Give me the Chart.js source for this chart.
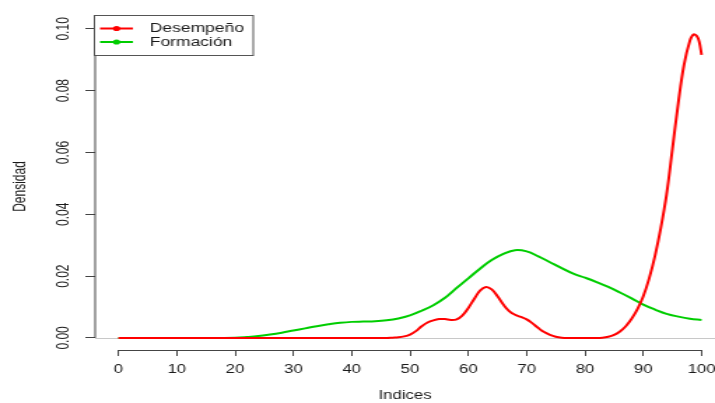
<!DOCTYPE html>
<html>
<head>
<meta charset="utf-8">
<title>Densidad</title>
<script src="https://cdn.jsdelivr.net/npm/chart.js@4/dist/chart.umd.min.js"></script>
<style>
  html, body { margin: 0; padding: 0; background: #fff; overflow: hidden; }
  /* the plot is drawn narrow and widened, like the wide png device it comes from */
  #wrap { width: 511px; height: 403px; transform: scaleX(1.3992); transform-origin: 0 0; }
</style>
</head>
<body>
<div id="wrap"><canvas id="densidad" width="511" height="403"></canvas></div>
<script>
// density estimates
var desempeno_x = [0, 10, 20, 30, 40, 46, 47, 48, 49, 50, 51, 52, 53, 54, 55, 56, 57, 58, 59, 60, 61, 62, 63, 64, 65, 66, 67, 68, 69, 70, 71, 72, 73, 74, 75, 76, 77, 80, 82, 83, 84, 85, 86, 87, 88, 89, 90, 91, 92, 93, 94, 95, 96, 97, 98, 98.6, 99.2, 99.6, 100];
var desempeno_y = [0, 0, 0, 0, 0, 0, 0.0001, 0.0002, 0.0005, 0.0011, 0.0022, 0.0038, 0.0050, 0.0057, 0.0061, 0.0061, 0.0058, 0.0060, 0.0073, 0.0097, 0.0126, 0.0153, 0.0165, 0.0157, 0.0135, 0.0108, 0.0087, 0.0075, 0.0068, 0.0060, 0.0047, 0.0032, 0.0019, 0.0010, 0.0004, 0.0001, 0, 0, 0, 0.0001, 0.0004, 0.0010, 0.0021, 0.0038, 0.0062, 0.0093, 0.0135, 0.0192, 0.0265, 0.0355, 0.0465, 0.0612, 0.0760, 0.0885, 0.0962, 0.0982, 0.0976, 0.0958, 0.0916];

var formacion_x = [0, 5, 10, 15, 20, 22, 24, 26, 28, 30, 32, 34, 36, 38, 40, 42, 44, 46, 48, 50, 52, 54, 56, 58, 60, 62, 64, 66, 68, 70, 72, 74, 76, 78, 80, 82, 84, 86, 88, 90, 92, 94, 96, 98, 100];
var formacion_y = [0, 0, 0, 0, 0.0001, 0.0003, 0.0006, 0.0011, 0.0017, 0.0024, 0.0031, 0.0038, 0.0044, 0.0049, 0.0052, 0.0053, 0.0054, 0.0057, 0.0063, 0.0073, 0.0088, 0.0106, 0.0130, 0.0162, 0.0193, 0.0224, 0.0252, 0.0272, 0.0284, 0.0280, 0.0264, 0.0245, 0.0226, 0.0208, 0.0195, 0.0181, 0.0165, 0.0147, 0.0128, 0.0108, 0.0092, 0.0078, 0.0069, 0.0062, 0.0058];

var x_ticks = [0, 10, 20, 30, 40, 50, 60, 70, 80, 90, 100];
var y_ticks = [0, 0.02, 0.04, 0.06, 0.08, 0.10];

var font_family = "'Liberation Sans', Arial, sans-serif";
var ink = '#1a1a1a';
var axis_col = '#444';

function pairs(xs, ys) {
  return xs.map(function (x, i) { return { x: x, y: ys[i] }; });
}

// keep the plot area fixed, labels may hang over the edges
function no_padding(s) {
  s.paddingLeft = 0;
  s.paddingRight = 0;
  s.paddingTop = 0;
  s.paddingBottom = 0;
}

// R style axes: lines only span the tick range, plus the gray zero line
var axis_lines = {
  id: 'axis_lines',
  beforeDatasetsDraw: function (chart) {
    var c = chart.ctx, area = chart.chartArea;
    var xs = chart.scales.x, ys = chart.scales.y;
    var y0 = Math.round(ys.getPixelForValue(0)) + 0.5;
    c.save();
    c.lineWidth = 1;
    c.strokeStyle = '#c8c8c8';
    c.beginPath();
    c.moveTo(area.left, y0);
    c.lineTo(area.right, y0);
    c.stroke();

    c.strokeStyle = axis_col;
    c.beginPath();
    c.moveTo(area.left, ys.getPixelForValue(y_ticks[0]));
    c.lineTo(area.left, ys.getPixelForValue(y_ticks[y_ticks.length - 1]));
    c.stroke();

    var yb = Math.round(area.bottom) + 0.5;
    c.beginPath();
    c.moveTo(xs.getPixelForValue(x_ticks[0]), yb);
    c.lineTo(xs.getPixelForValue(x_ticks[x_ticks.length - 1]), yb);
    c.stroke();
    c.restore();
  }
};

// boxed legend in the top left corner
var legend_box = {
  id: 'legend_box',
  afterDraw: function (chart) {
    var c = chart.ctx;
    var left = 67.5, top = 15.5, w = 113.5, h = 40;
    c.save();
    c.fillStyle = '#fff';
    c.fillRect(left, top, w, h);
    c.strokeStyle = '#555';
    c.lineWidth = 1;
    c.strokeRect(left, top, w, h);
    c.font = '12.5px ' + font_family;
    c.textBaseline = 'middle';
    chart.data.datasets.forEach(function (ds, i) {
      var y = 28.5 + i * 13.5;
      c.strokeStyle = ds.borderColor;
      c.lineWidth = 2;
      c.beginPath();
      c.moveTo(71.5, y);
      c.lineTo(95, y);
      c.stroke();
      c.fillStyle = ds.borderColor;
      c.beginPath();
      c.arc(83.3, y, 2.6, 0, Math.PI * 2);
      c.fill();
      c.fillStyle = ink;
      c.fillText(ds.label, 107, y + 0.5);
    });
    c.restore();
  }
};

var ctx = document.getElementById('densidad').getContext('2d');
var my_chart = new Chart(ctx, {
  type: 'line',
  data: {
    datasets: [{
      label: 'Desempeño',
      data: pairs(desempeno_x, desempeno_y),
      borderColor: '#ff0000',
      backgroundColor: '#ff0000',
      borderWidth: 2,
      fill: false,
      tension: 0.4
    }, {
      label: 'Formación',
      data: pairs(formacion_x, formacion_y),
      borderColor: '#00cd00',
      backgroundColor: '#00cd00',
      borderWidth: 2,
      fill: false,
      tension: 0.4
    }]
  },
  options: {
    responsive: false,
    animation: false,
    layout: { padding: { top: 23, right: 0, bottom: 0, left: 0 } },
    elements: { point: { radius: 0 } },
    plugins: { legend: { display: false }, tooltip: { enabled: false } },
    scales: {
      x: {
        type: 'linear',
        min: -4,
        max: 102.3,
        afterFit: function (s) { s.height = 53; no_padding(s); },
        afterBuildTicks: function (s) { s.ticks = x_ticks.map(function (v) { return { value: v }; }); },
        border: { display: false },
        grid: { drawOnChartArea: false, drawTicks: true, tickLength: 6, color: axis_col },
        ticks: {
          color: ink, autoSkip: false, maxRotation: 0, padding: 6,
          font: { size: 12, family: font_family }
        },
        title: {
          display: true, text: 'Indices', color: ink,
          font: { size: 12, family: font_family },
          padding: { top: 0, bottom: 0 }
        }
      },
      y: {
        type: 'linear',
        min: -0.0039,
        max: 0.1019,
        afterFit: function (s) { s.width = 68; no_padding(s); },
        afterBuildTicks: function (s) { s.ticks = y_ticks.map(function (v) { return { value: v }; }); },
        border: { display: false },
        grid: { drawOnChartArea: false, drawTicks: true, tickLength: 7, color: axis_col },
        ticks: {
          color: ink, minRotation: 90, maxRotation: 90, crossAlign: 'center', padding: 4,
          font: { size: 12, family: font_family },
          callback: function (v) { return v.toFixed(2); }
        },
        title: {
          display: true, text: 'Densidad', color: ink,
          font: { size: 12, family: font_family },
          padding: { top: 7, bottom: 0 }
        }
      }
    }
  },
  plugins: [axis_lines, legend_box]
});
</script>
</body>
</html>
